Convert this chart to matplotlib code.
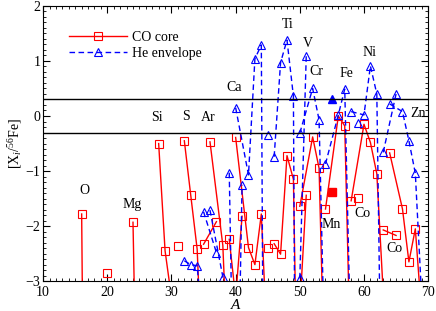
import matplotlib
matplotlib.use("Agg")
import matplotlib.pyplot as plt
from matplotlib.ticker import MultipleLocator

plt.rcParams['font.family'] = ['Liberation Serif', 'DejaVu Serif']
plt.rcParams['mathtext.fontset'] = 'custom'
plt.rcParams['mathtext.rm'] = 'Liberation Serif'
plt.rcParams['mathtext.it'] = 'Liberation Serif:italic'

# isotopes (mass number) of each element
iso_O = [16, 17]
iso_Ne = [20]
iso_Mg = [24, 25]
iso_Si = [28, 29, 30]
iso_P = [31]
iso_S = [32, 33, 34, 36]
iso_Cl = [35, 37]
iso_Ar = [36, 38, 40]
iso_K = [39, 40, 41]
iso_Ca = [40, 42, 43, 44, 46]
iso_Sc = [45]
iso_Ti = [46, 47, 48, 49, 50]
iso_V = [50, 51]
iso_Cr = [50, 52, 53, 54]
iso_Fe = [54, 56, 57, 58]
iso_Co = [59]
iso_Ni = [58, 60, 61, 62, 64]
iso_Cu = [63, 65]
iso_Zn = [64, 66, 67, 68, 70]

# [X_i/56Fe] in the CO core
core_O = [-1.78, -15.0]
core_Ne = [-2.86]
core_Mg = [-1.93, -8.0]
core_Si = [-0.50, -2.45, -3.3]
core_P = [-2.36]
core_S = [-0.45, -1.44, -2.42, -8.0]
core_Cl = [-2.33, -1.92]
core_Ar = [-0.47, -2.35, -8.0]
core_K = [-2.24, -3.3, -1.82]
core_Ca = [-0.39, -2.39, -2.70, -1.78, -7.0]
core_Sc = [-2.39]
core_Ti = [-2.32, -2.51, -0.72, -1.15, -8.0]
core_V = [-3.5, -1.44]
core_Cr = [-1.64, -0.38, -0.95, -5.5]
core_Fe = [-1.69, 0.0, -0.18, -5.0]
core_Co = [-1.49]
core_Ni = [-1.54, -0.15, -0.48, -1.05, -5.4]
core_Cu = [-2.07, -2.17]
core_Zn = [-0.67, -1.69, -2.65, -2.05, -5.2]

# [X_i/56Fe] in the He envelope
env_S = [-2.63, -2.70, -2.72, -5.5]
env_Cl = [-1.74, -2.48]
env_Ar = [-1.71, -2.92, -8.0]
env_K = [-1.03, -7.5, -1.25]
env_Ca = [0.15, -1.07, 1.04, 1.29, -40.0]
env_Sc = [-0.35]
env_Ti = [-0.74, 0.97, 1.38, 0.36, -20.0]
env_V = [-2.95, 1.09]
env_Cr = [-0.31, 0.50, -0.07, -5.0]
env_Fe = [-0.87, 0.02, 0.49, -4.5]
env_Co = [-0.12]
env_Ni = [0.08, 0.02, 0.91, 0.40, -16.0]
env_Cu = [-0.66, 0.40]
env_Zn = [0.22, 0.08, -0.45, -1.04, -5.6]

# Mn-55 (filled symbols)
mn_A = 55
mn_core = -1.38
mn_env = 0.30

core_chains = [(iso_O, core_O), (iso_Ne, core_Ne), (iso_Mg, core_Mg), (iso_Si, core_Si),
               (iso_P, core_P), (iso_S, core_S), (iso_Cl, core_Cl), (iso_Ar, core_Ar),
               (iso_K, core_K), (iso_Ca, core_Ca), (iso_Sc, core_Sc), (iso_Ti, core_Ti),
               (iso_V, core_V), (iso_Cr, core_Cr), (iso_Fe, core_Fe), (iso_Co, core_Co),
               (iso_Ni, core_Ni), (iso_Cu, core_Cu), (iso_Zn, core_Zn)]
env_chains = [(iso_S, env_S), (iso_Cl, env_Cl), (iso_Ar, env_Ar), (iso_K, env_K),
              (iso_Ca, env_Ca), (iso_Sc, env_Sc), (iso_Ti, env_Ti), (iso_V, env_V),
              (iso_Cr, env_Cr), (iso_Fe, env_Fe), (iso_Co, env_Co), (iso_Ni, env_Ni),
              (iso_Cu, env_Cu), (iso_Zn, env_Zn)]

# element labels
lab_names = ['O', 'Mg', 'Si', 'S', 'Ar', 'Ca', 'Ti', 'V', 'Cr', 'Fe', 'Ni', 'Zn', 'Mn', 'Co', 'Co']
lab_x = [16.5, 23.8, 27.8, 32.2, 35.7, 39.7, 48.1, 51.2, 52.6, 57.2, 60.8, 68.5, 54.9, 59.7, 64.8]
lab_y = [-1.36, -1.6, -0.02, 0.0, -0.02, 0.52, 1.67, 1.32, 0.81, 0.78, 1.16, 0.05, -1.98, -1.78, -2.4]

red = '#ff0000'
blue = '#0000ff'

fig = plt.figure(figsize=(4.36, 3.11), dpi=100)
ax = fig.add_axes([0.099, 0.096, 0.883, 0.885])

for i, (a, v) in enumerate(core_chains):
    ax.plot(a, v, '-', color=red, lw=1.0, marker='s', ms=5.8, mfc='none',
            mec=red, mew=0.8, label='CO core' if i == 0 else None)
for i, (a, v) in enumerate(env_chains):
    ax.plot(a, v, '--', color=blue, lw=1.0, dashes=(4, 2.5), marker='^', ms=5.8,
            mfc='none', mec=blue, mew=0.8, label='He envelope' if i == 0 else None)

ax.plot([mn_A], [mn_core], 's', color=red, ms=5.8)
ax.plot([mn_A], [mn_env], '^', color=blue, ms=5.8)

ax.axhline(0.3, color='black', lw=1.0)
ax.axhline(-0.3, color='black', lw=1.0)

for name, x, y in zip(lab_names, lab_x, lab_y):
    ax.text(x, y, name, fontsize=10, ha='center', va='center')

ax.set_xlim(10, 70)
ax.set_ylim(-3, 2)
ax.xaxis.set_major_locator(MultipleLocator(10))
ax.xaxis.set_minor_locator(MultipleLocator(1))
ax.yaxis.set_major_locator(MultipleLocator(1))
ax.yaxis.set_minor_locator(MultipleLocator(0.1))
ax.tick_params(which='both', direction='in', top=True, right=True, labelsize=10)
ax.tick_params(axis='x', pad=3.5)
ax.tick_params(axis='y', pad=2)
ax.tick_params(which='major', length=5)
ax.tick_params(which='minor', length=2.5)
ax.set_xlabel('$A$', fontsize=11, labelpad=-1)
ax.set_ylabel('[X$_i$/$^{56}$Fe]', fontsize=10, labelpad=1)

ax.legend(loc='upper left', frameon=False, fontsize=10, handlelength=4.2,
          borderaxespad=0.6, labelspacing=0.2, handletextpad=0.4, bbox_to_anchor=(0.03, 0.96))

fig.savefig('out.png', dpi=100)
